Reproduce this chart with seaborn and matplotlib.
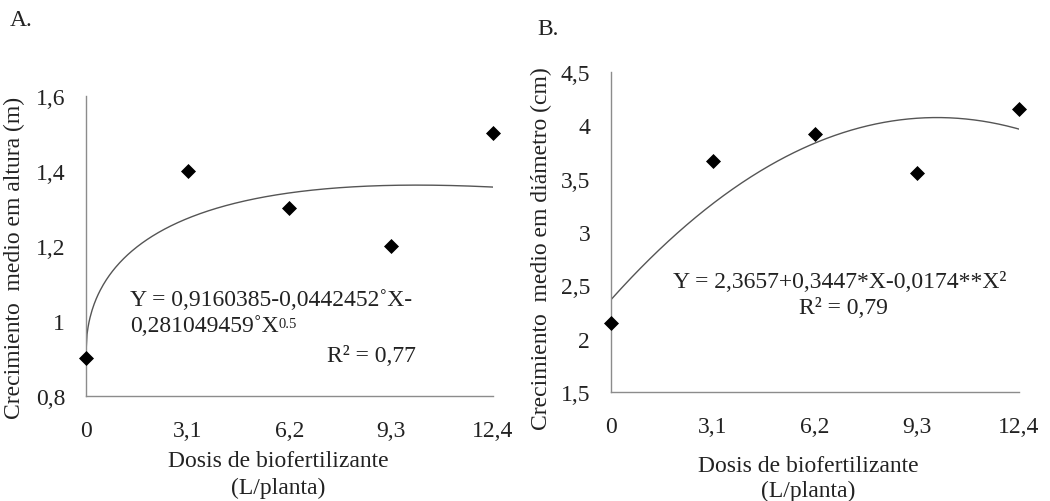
import numpy as np
import pandas as pd
import matplotlib
matplotlib.use("Agg")
import matplotlib.pyplot as plt
import seaborn as sns

# datos
dosis = [0, 3.1, 6.2, 9.3, 12.4]
dosis_labels = ["0", "3,1", "6,2", "9,3", "12,4"]
altura = [0.90, 1.40, 1.30, 1.20, 1.50]
diametro = [2.15, 3.67, 3.92, 3.55, 4.15]

# coeficientes de las ecuaciones mostradas (linea de tendencia)
coef_altura = [0.9160385, -0.0442452, 0.281049459]   # a + b*X + c*X^0.5
coef_diametro = [2.3657, 0.3447, -0.0174]             # a + b*X + c*X^2

sns.set_theme(style="white")
plt.rcParams['font.family'] = ['Liberation Serif', 'DejaVu Serif']

FS = 17
AXC = '#8c8c8c'
TXC = '#222222'

fig = plt.figure(figsize=(10.5, 5.02), dpi=100)
axA = fig.add_axes([0.0819, 0.2092, 0.3876, 0.5976])
axB = fig.add_axes([0.5819, 0.2171, 0.3886, 0.6375])

xs = np.linspace(0, 12.4, 400)
curva_A = pd.DataFrame({"x": xs, "y": coef_altura[0] + coef_altura[1] * xs + coef_altura[2] * np.sqrt(xs)})
curva_B = pd.DataFrame({"x": xs, "y": coef_diametro[0] + coef_diametro[1] * xs + coef_diametro[2] * xs ** 2})
df_A = pd.DataFrame({"x": dosis, "y": altura})
df_B = pd.DataFrame({"x": dosis, "y": diametro})


def panel(ax, df, curva, ylim, yticks, ylabels, ylabel, ylab_xy):
    sns.lineplot(data=curva, x="x", y="y", ax=ax, color='#555555', linewidth=1.0)
    sns.scatterplot(data=df, x="x", y="y", ax=ax, marker='D', s=50, color='black',
                    edgecolor='black', zorder=5, clip_on=False)
    ax.set_xlim(0, 12.4)
    ax.set_ylim(*ylim)
    ax.set_xticks(dosis)
    ax.set_xticklabels(dosis_labels, fontsize=FS)
    ax.set_yticks(yticks)
    ax.set_yticklabels(ylabels, fontsize=FS)
    for s in ['top', 'right']:
        ax.spines[s].set_visible(False)
    for s in ['left', 'bottom']:
        ax.spines[s].set_color(AXC)
        ax.spines[s].set_linewidth(1.0)
    ax.tick_params(axis='x', direction='out', length=5, width=1, color=AXC, pad=12, labelcolor=TXC)
    ax.tick_params(axis='y', direction='out', length=5, width=1, color=AXC, pad=10, labelcolor=TXC)
    ax.set_xlabel('')
    ax.set_ylabel(ylabel, fontsize=FS, color=TXC)
    ax.yaxis.set_label_coords(*ylab_xy)


panel(axA, df_A, curva_A, (0.8, 1.6), [0.8, 1.0, 1.2, 1.4, 1.6],
      ["0,8", "1", "1,2", "1,4", "1,6"], "Crecimiento  medio em altura (m)", (-0.15, 0.463))
panel(axB, df_B, curva_B, (1.5, 4.5), [1.5, 2, 2.5, 3, 3.5, 4, 4.5],
      ["1,5", "2", "2,5", "3", "3,5", "4", "4,5"], "Crecimiento  medio em diámetro (cm)", (-0.145, 0.45))


def ftext(x, y, s, size=FS, **kw):
    return fig.text(x / 1050, 1 - y / 502, s, fontsize=size, color=TXC, **kw)


ftext(10, 20, "A.", ha='left', va='center')
ftext(537, 30, "B.", ha='left', va='center')

ftext(278, 475, "Dosis de biofertilizante\n(L/planta)", ha='center', va='center',
      multialignment='center', linespacing=1.3)
ftext(808, 479, "Dosis de biofertilizante\n(L/planta)", ha='center', va='center',
      multialignment='center', linespacing=1.25)

# ecuacion panel A (superindice como texto aparte)
ftext(130, 300, "Y = 0,9160385-0,0442452˚X-", ha='left', va='center')
t = ftext(130, 327, "0,281049459˚X", ha='left', va='center')
axA.annotate("0.5", xy=(1, 0.92), xycoords=t, ha='left', va='top',
             fontsize=FS * 0.62, color=TXC, annotation_clip=False)
ftext(327, 357, "R² = 0,77", ha='left', va='center')

# ecuacion panel B
ftext(673, 283, "Y = 2,3657+0,3447*X-0,0174**X²", ha='left', va='center')
ftext(843, 309, "R² = 0,79", ha='center', va='center')

fig.savefig("out.png", dpi=100)
